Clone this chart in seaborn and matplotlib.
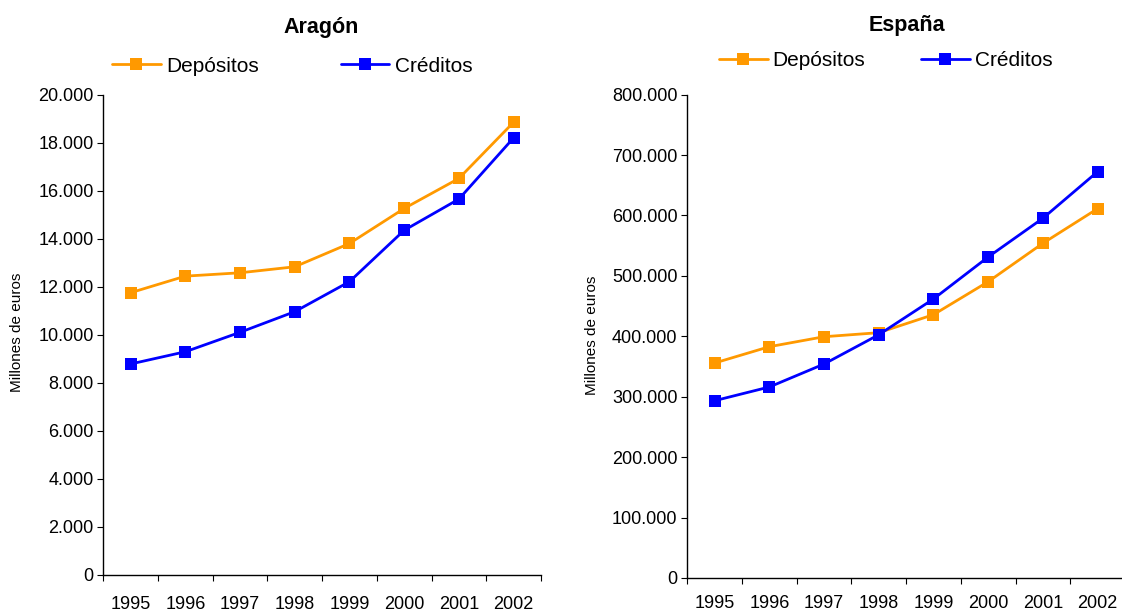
import numpy as np
import pandas as pd
import matplotlib
matplotlib.use("Agg")
import matplotlib.pyplot as plt
from matplotlib.ticker import FuncFormatter, FixedLocator
import seaborn as sns

years = ["1995", "1996", "1997", "1998", "1999", "2000", "2001", "2002"]
aragon_depositos = [11750, 12440, 12580, 12830, 13800, 15260, 16510, 18850]
aragon_creditos = [8780, 9290, 10100, 10960, 12210, 14350, 15650, 18200]
espana_depositos = [355800, 382800, 399300, 406000, 435800, 490400, 554000, 611300]
espana_creditos = [293400, 316100, 354100, 402600, 461800, 531300, 595400, 672500]
series_names = ["Depósitos", "Créditos"]
colors = {"Depósitos": "#FF9900", "Créditos": "#0000FF"}

sns.set_style("white")
plt.rcParams["font.family"] = ["Liberation Sans", "DejaVu Sans"]
plt.rcParams["text.color"] = "black"
plt.rcParams["axes.labelcolor"] = "black"

W, H = 1122, 614
fig = plt.figure(figsize=(W / 100, H / 100), dpi=100)

def fig_rect(x0, y_top, x1, y_bot):
    return [x0 / W, 1 - y_bot / H, (x1 - x0) / W, (y_bot - y_top) / H]

ax1 = fig.add_axes(fig_rect(103.3, 94.7, 540.9, 574.7))
ax2 = fig.add_axes(fig_rect(687.3, 94.7, 1124.9, 577.9))

def thousands(v, pos):
    return f"{int(round(v)):,}".replace(",", ".")

def make_df(dep, cre):
    rows = []
    for i, y in enumerate(years):
        rows.append({"pos": i, "valor": dep[i], "serie": "Depósitos"})
    for i, y in enumerate(years):
        rows.append({"pos": i, "valor": cre[i], "serie": "Créditos"})
    return pd.DataFrame(rows)

def draw(ax, dep, cre, ymax, ystep, xpad):
    df = make_df(dep, cre)
    sns.lineplot(data=df, x="pos", y="valor", hue="serie", style="serie",
                 hue_order=series_names, style_order=series_names,
                 palette=colors, markers={"Depósitos": "s", "Créditos": "s"},
                 dashes=False, markersize=8, markeredgewidth=0, linewidth=2,
                 ax=ax, legend=False)
    ax.set_xlim(-0.5, len(years) - 0.5)
    ax.set_ylim(0, ymax)
    ax.yaxis.set_major_locator(FixedLocator(np.arange(0, ymax + 1, ystep)))
    ax.yaxis.set_major_formatter(FuncFormatter(thousands))
    ax.set_xticks(range(len(years)))
    ax.set_xticklabels(years)
    ax.set_xticks(np.arange(-0.5, len(years)), minor=True)
    ax.tick_params(axis="x", which="major", length=0, pad=xpad, labelsize=13, colors="black")
    ax.tick_params(axis="x", which="minor", length=4, width=0.8, direction="out", bottom=True, color="black")
    ax.tick_params(axis="y", which="major", length=4, width=0.8, direction="out", left=True, pad=3,
                   labelsize=13, colors="black")
    for s in ["top", "right"]:
        ax.spines[s].set_visible(False)
    for s in ["left", "bottom"]:
        ax.spines[s].set_color("black")
        ax.spines[s].set_linewidth(1.0)
    ax.set_xlabel("")
    ax.set_ylabel("")
    ax.grid(False)

draw(ax1, aragon_depositos, aragon_creditos, 20000, 2000, 15)
draw(ax2, espana_depositos, espana_creditos, 800000, 100000, 12.5)

fig.text(17 / W, 1 - 332.5 / H, "Millones de euros", rotation=90, ha="center", va="center", fontsize=11)
fig.text(592 / W, 1 - 335.8 / H, "Millones de euros", rotation=90, ha="center", va="center", fontsize=11)

fig.text(321 / W, 1 - 27 / H, "Aragón", ha="center", va="center", fontsize=15.5, fontweight="bold")
fig.text(907 / W, 1 - 26 / H, "España", ha="center", va="center", fontsize=15.5, fontweight="bold")

def add_legend(ax, x, y, colspacing):
    handles = [plt.Line2D([], [], color=colors[n], marker="s", markersize=8,
                          markeredgewidth=0, linewidth=2) for n in series_names]
    leg = ax.legend(handles, series_names, ncol=2, loc="center left",
                    bbox_to_anchor=(x / W, 1 - y / H), bbox_transform=fig.transFigure,
                    frameon=False, fontsize=15, handlelength=2.33, handletextpad=0.25,
                    columnspacing=colspacing, borderpad=0, borderaxespad=0)
    for t in leg.get_texts():
        t.set_color("black")
    return leg

add_legend(ax1, 112, 66, 3.95)
add_legend(ax2, 719, 61, 2.67)

fig.savefig("out.png", dpi=100, facecolor="white")
